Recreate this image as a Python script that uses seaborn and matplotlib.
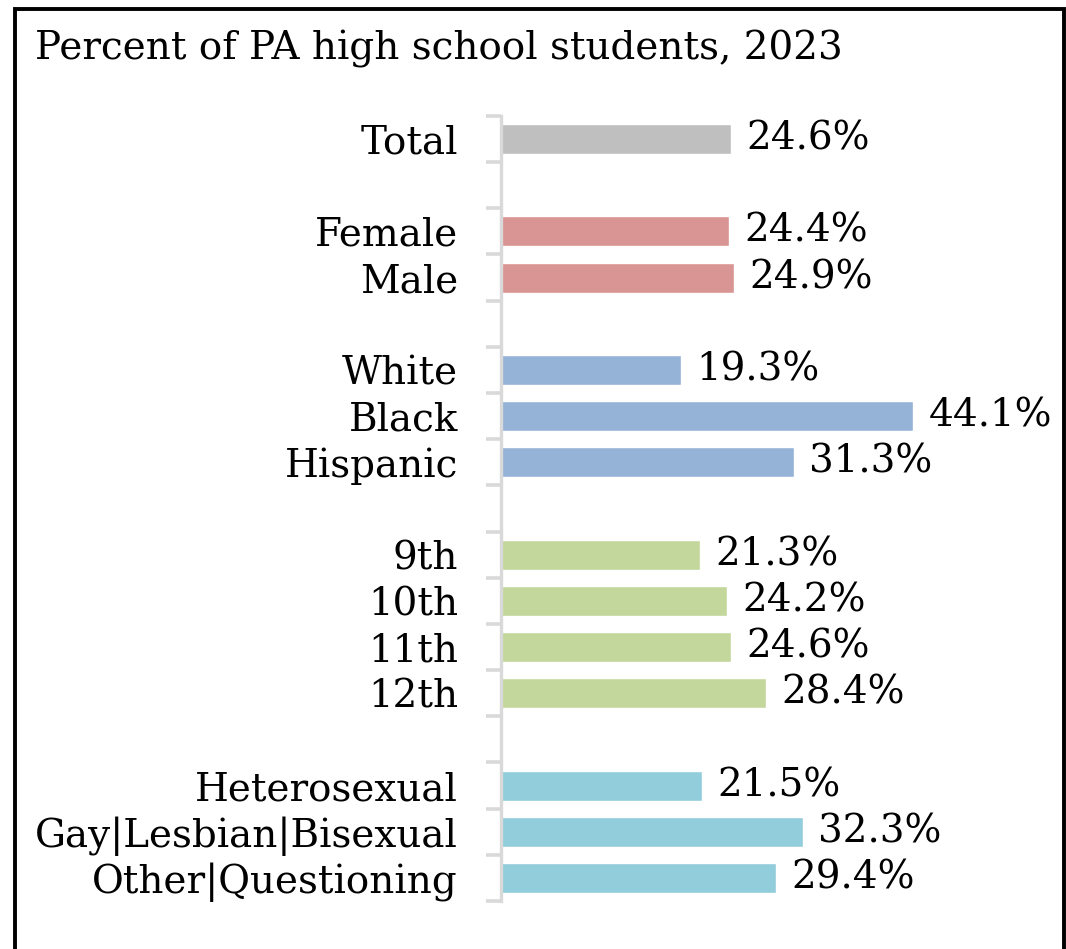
import numpy as np
import pandas as pd
import matplotlib
matplotlib.use("Agg")
import matplotlib.pyplot as plt
import seaborn as sns
from matplotlib.patches import Rectangle

# data
labels = ["Total", "Female", "Male", "White", "Black", "Hispanic",
          "9th", "10th", "11th", "12th",
          "Heterosexual", "Gay|Lesbian|Bisexual", "Other|Questioning"]
values = [24.6, 24.4, 24.9, 19.3, 44.1, 31.3, 21.3, 24.2, 24.6, 28.4, 21.5, 32.3, 29.4]
groups = ["total", "sex", "sex", "race", "race", "race",
          "grade", "grade", "grade", "grade", "orient", "orient", "orient"]
group_colors = {"total": "#bfbfbf", "sex": "#d99594", "race": "#95b3d7",
                "grade": "#c3d69b", "orient": "#92cddc"}
# empty slots between the groups
order = ["Total", "gap1", "Female", "Male", "gap2", "White", "Black", "Hispanic",
         "gap3", "9th", "10th", "11th", "12th", "gap4",
         "Heterosexual", "Gay|Lesbian|Bisexual", "Other|Questioning"]

df = pd.DataFrame({"label": labels, "value": values, "group": groups})
pal = {l: group_colors[g] for l, g in zip(labels, groups)}

sns.set_style("white")
plt.rcParams["font.family"] = ["DejaVu Serif"]
plt.rcParams["text.color"] = "black"
plt.rcParams["ytick.color"] = "#d9d9d9"
plt.rcParams["ytick.labelcolor"] = "black"

fig = plt.figure(figsize=(10.66, 9.49), dpi=100)
ax = fig.add_axes([0.47, 0.0506, 0.5225, 0.8272])

sns.barplot(data=df, x="value", y="label", hue="label", order=order,
            palette=pal, width=0.65, legend=False, ax=ax, orient="h",
            saturation=1)

for c in ax.containers:
    ax.bar_label(c, fmt="%.1f%%", padding=11, fontsize=28)

ax.set_xlim(0, 59.6)
ax.set_ylim(len(order) - 0.5, -0.5)
ax.set_xlabel("")
ax.set_ylabel("")
ax.xaxis.set_visible(False)
for s in ["top", "right", "bottom"]:
    ax.spines[s].set_visible(False)
ax.spines["left"].set_color("#d9d9d9")
ax.spines["left"].set_linewidth(2.4)

ax.set_yticks(range(len(order)))
ax.set_yticklabels([o if not o.startswith("gap") else "" for o in order], fontsize=28)
ax.tick_params(axis="y", which="major", length=0, pad=31)
ax.set_yticks(np.arange(-0.5, len(order)), minor=True)
ax.tick_params(axis="y", which="minor", left=True, length=10.5, width=2.6, color="#d9d9d9")

fig.text(35 / 1066, 1 - 49 / 949, "Percent of PA high school students, 2023",
         fontsize=28, va="center", ha="left")

# frame around the chart
fig.patches.append(Rectangle((14.5 / 1066, -0.05), (1064 - 14.5) / 1066, 1.05 - 8.5 / 949,
                             transform=fig.transFigure, fill=False,
                             edgecolor="black", linewidth=2.8))

fig.savefig("out.png", dpi=100)
